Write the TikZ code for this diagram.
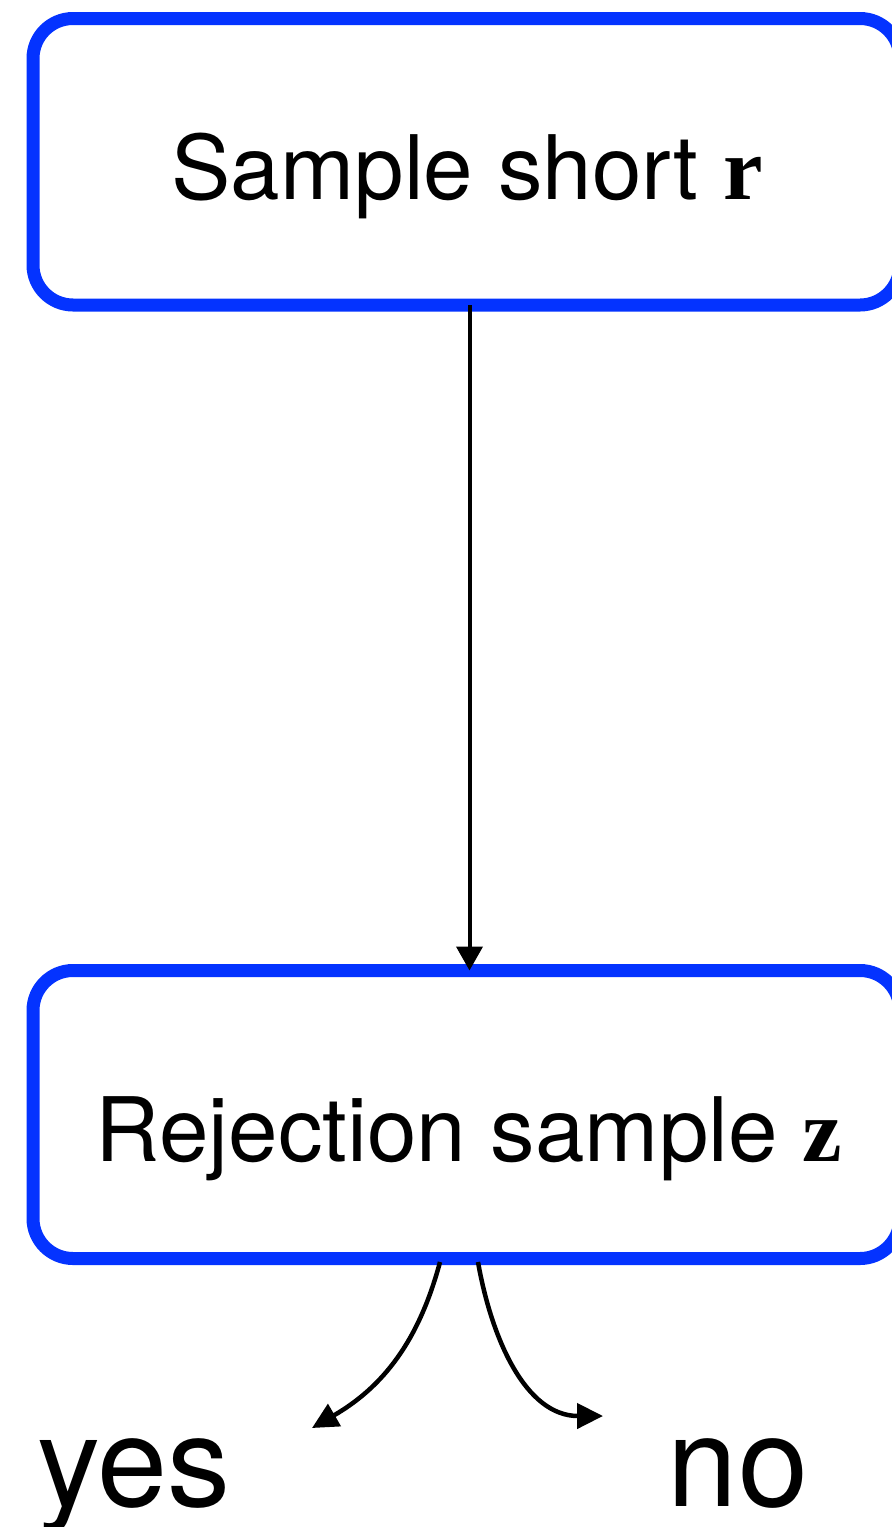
\documentclass[tikz,border=0pt]{standalone}
\usepackage{fontspec}
\setmainfont{TeX Gyre Heros}
\newfontfamily\boldserif{Liberation Serif}
\usetikzlibrary{arrows.meta}
\definecolor{bblue}{RGB}{4,51,255}
\tikzset{
  box/.style={draw=bblue, line width=13pt, rounded corners=40pt, outer sep=0pt,
    minimum width=867pt, inner sep=0pt},
  lab/.style={font=\fontsize{89}{100}\selectfont, anchor=base, inner sep=0pt},
  ans/.style={font=\fontsize{126}{140}\selectfont, anchor=base, inner sep=0pt},
  conn/.style={line width=4pt, -{Triangle[length=24pt,width=26pt]}},
  curvearrow/.style={line width=4.5pt, -{Triangle[length=26pt,width=25pt]}}
}
\begin{document}
\begin{tikzpicture}[x=1pt,y=-1pt]
\useasboundingbox (0,0) rectangle (892,1527);
\clip (0,0) rectangle (892,1527);
\node[box, minimum height=286.5pt] (top) at (466.5,161.75) {};
\node[box, minimum height=288pt] (bot) at (466.5,1114.5) {};
\node[lab] (toptext) at (467,199) {Sample short {\boldserif\bfseries r}};
\node[lab] (bottext) at (469,1161) {Rejection sample {\boldserif\bfseries z}};
\node[ans] (yes) at (134,1506) {yes};
\node[ans] (no) at (738,1506) {no};
\coordinate (ax) at (469.5,0);
\coordinate (ys) at (440,1262);
\coordinate (ns) at (478,1262);
\coordinate (yt) at (312,1428);
\coordinate (nt) at (603,1416);
\draw[conn] (top.south -| ax) -- (bot.north -| ax);
\draw[curvearrow] (ys) to[out=-105,in=30] (yt);
\draw[curvearrow] (ns) to[out=-80,in=180] (nt);
\end{tikzpicture}
\end{document}
